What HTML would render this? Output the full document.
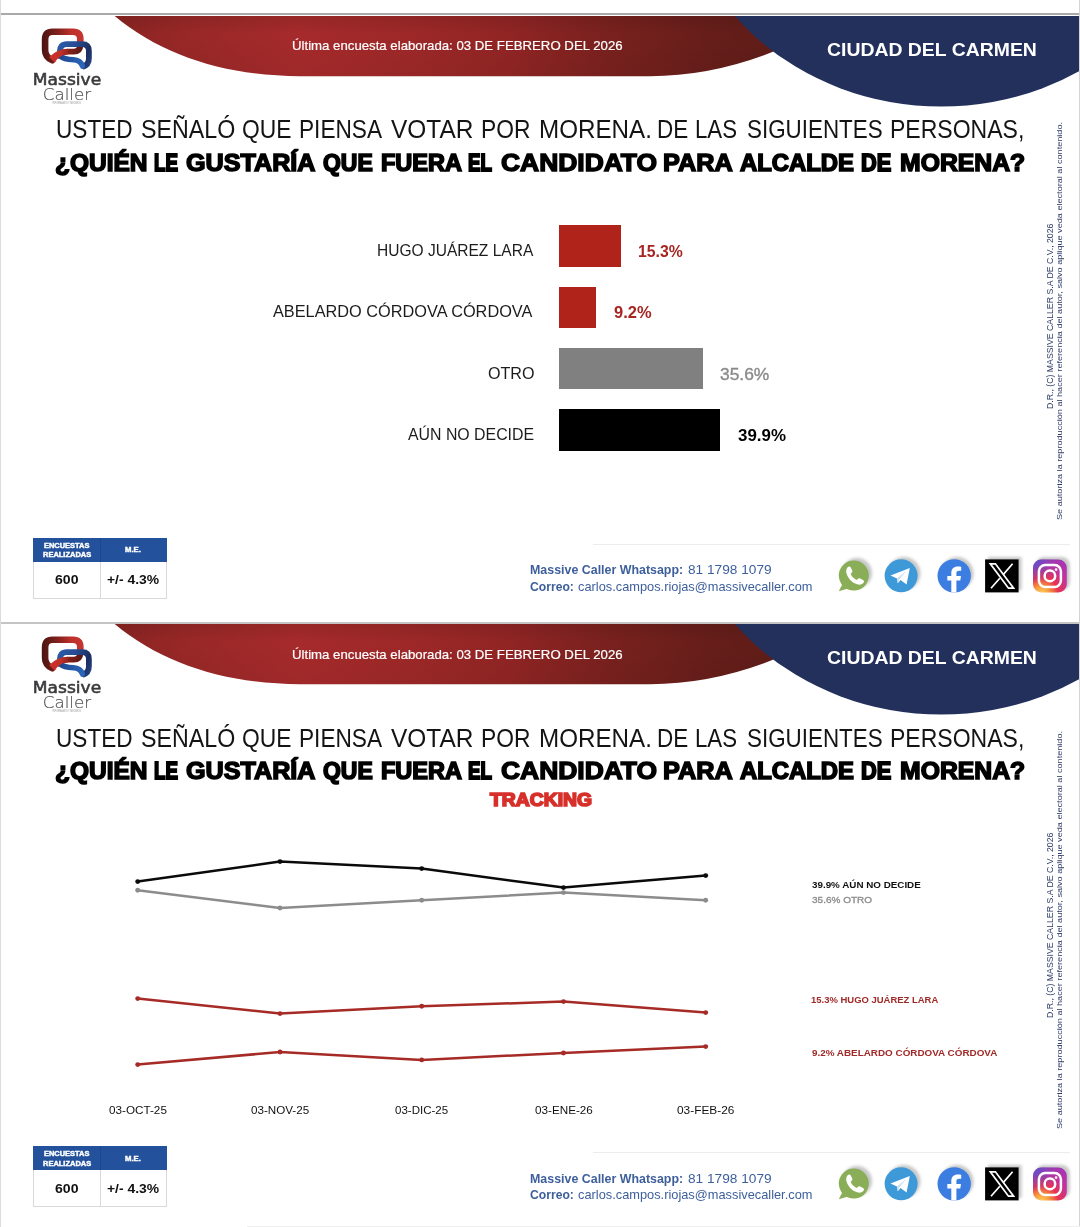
<!DOCTYPE html>
<html lang="es"><head><meta charset="utf-8"><title>Massive Caller - Ciudad del Carmen</title>
<style>
html,body{margin:0;padding:0;background:#fff;}
body{width:1080px;height:1227px;position:relative;overflow:hidden;font-family:"Liberation Sans",sans-serif;}
.panel{position:absolute;left:0;width:1080px;height:609px;}
.t{position:absolute;white-space:nowrap;line-height:1;transform-origin:0 0;display:block;}
.topline{position:absolute;left:0;top:12.7px;width:1080px;height:2.5px;background:#a9a9a9;}
.hdr{position:absolute;left:0;top:0;}
.logo{position:absolute;left:20px;top:20px;}
.bar{position:absolute;left:559.4px;height:41.5px;}
.footline{position:absolute;left:593px;top:543.5px;width:477px;height:1px;background:#ececec;}
.tbl{position:absolute;left:33.3px;top:538px;width:133.4px;height:60.6px;box-sizing:border-box;border:1px solid #d9d9d9;background:#fff;}
.tbl .th{position:absolute;left:-1px;top:-1px;width:133.4px;height:23.8px;background:#23519c;}
.tbl .vd{position:absolute;left:65.6px;top:22.8px;width:1px;height:36.8px;background:#d9d9d9;}
.tbl .hd{position:absolute;left:65.6px;top:-1px;width:1px;height:23.8px;background:rgba(0,0,0,0.12);}
.icons{position:absolute;left:825px;top:545px;}
.chart{position:absolute;left:0;top:0;}
.edge{position:absolute;top:0;width:1px;height:1227px;background:#d4d4d4;}
</style></head>
<body>
<svg width="0" height="0" style="position:absolute;left:0;top:0">
<defs>
<linearGradient id="lr" x1="41" y1="0" x2="84" y2="0" gradientUnits="userSpaceOnUse"><stop offset="0" stop-color="#471411"/><stop offset="0.15" stop-color="#5e1814"/><stop offset="0.45" stop-color="#8d231e"/><stop offset="0.72" stop-color="#c0322c"/><stop offset="1" stop-color="#c5352f"/></linearGradient>
<linearGradient id="lr2" x1="52" y1="0" x2="82" y2="0" gradientUnits="userSpaceOnUse"><stop offset="0" stop-color="#b52c27"/><stop offset="0.5" stop-color="#8a211c"/><stop offset="1" stop-color="#5c1713"/></linearGradient>
<linearGradient id="lr3" x1="49" y1="0" x2="68" y2="0" gradientUnits="userSpaceOnUse"><stop offset="0" stop-color="#cc342d"/><stop offset="0.6" stop-color="#c3302a"/><stop offset="1" stop-color="#98241f"/></linearGradient>
<linearGradient id="lb" x1="58" y1="44" x2="92" y2="60" gradientUnits="userSpaceOnUse"><stop offset="0" stop-color="#2b5ba8"/><stop offset="0.45" stop-color="#264b92"/><stop offset="0.8" stop-color="#1d2d5e"/><stop offset="1" stop-color="#22407f"/></linearGradient>
<linearGradient id="lb2" x1="60" y1="0" x2="84" y2="0" gradientUnits="userSpaceOnUse"><stop offset="0" stop-color="#1f468e"/><stop offset="0.5" stop-color="#2458a6"/><stop offset="1" stop-color="#2b66b8"/></linearGradient>
<filter id="sh" x="-30%" y="-30%" width="160%" height="160%"><feGaussianBlur stdDeviation="1.7"/></filter>
<radialGradient id="ig" cx="0.25" cy="1.05" r="1.2"><stop offset="0" stop-color="#fdd66b"/><stop offset="0.18" stop-color="#f9a13c"/><stop offset="0.42" stop-color="#e8344f"/><stop offset="0.7" stop-color="#c232a0"/><stop offset="1" stop-color="#a136b4"/></radialGradient>
<radialGradient id="ig2" cx="0.02" cy="0.0" r="0.75"><stop offset="0" stop-color="#4a55d2" stop-opacity="0.95"/><stop offset="0.5" stop-color="#5b4fc9" stop-opacity="0.45"/><stop offset="1" stop-color="#6a4cc4" stop-opacity="0"/></radialGradient>
</defs></svg>
<div class="panel" style="top:0px">
<div class="topline" style=""></div>
<svg class="hdr" width="1080" height="125" viewBox="0 0 1080 125">
<defs>
<linearGradient id="rg1" x1="115" y1="0" x2="820" y2="0" gradientUnits="userSpaceOnUse">
<stop offset="0" stop-color="#8a2422"/><stop offset="0.1" stop-color="#982827"/><stop offset="0.26" stop-color="#a62a2b"/><stop offset="0.42" stop-color="#9d2828"/><stop offset="0.56" stop-color="#902524"/><stop offset="0.7" stop-color="#79211e"/><stop offset="0.84" stop-color="#671e1a"/><stop offset="1" stop-color="#5a1c16"/>
</linearGradient>
<linearGradient id="rv1" x1="0" y1="16" x2="0" y2="76" gradientUnits="userSpaceOnUse">
<stop offset="0" stop-color="#000" stop-opacity="0.09"/><stop offset="0.3" stop-color="#000" stop-opacity="0"/><stop offset="1" stop-color="#000" stop-opacity="0.04"/>
</linearGradient>
<clipPath id="hc1"><rect x="0" y="16" width="1080" height="110"/></clipPath>
</defs>
<path d="M114.7,16 C164,57.2 229.4,76.2 300,76.2 L650,76.2 Q746.8,76.2 843.6,16 Z" fill="url(#rg1)"/>
<path d="M114.7,16 C164,57.2 229.4,76.2 300,76.2 L650,76.2 Q746.8,76.2 843.6,16 Z" fill="url(#rv1)"/>
<ellipse cx="941.3" cy="-131.6" rx="263.1" ry="238.1" fill="#23305c" clip-path="url(#hc1)"/>
</svg>
<span class="t" style="left:292.49px;top:39.11px;font-size:13.1px;color:#fff;transform:scaleX(1.0087);-webkit-text-stroke:0.2px #fff;">Última encuesta elaborada: 03 DE FEBRERO DEL 2026</span>
<span class="t" style="left:826.79px;top:40.54px;font-size:18.5px;color:#fff;transform:scaleX(1.0488);font-weight:bold;">CIUDAD DEL CARMEN</span>
<svg class="logo" width="100" height="90" viewBox="20 20 100 90">
<g fill="none" stroke-linecap="round" stroke-linejoin="round">
<path d="M52.3,60.3 C47.5,58.2 45.1,55 45.1,50 L45.1,39.5 C45.1,34.4 47.6,31.8 52.6,31.8 L73,31.8 C77.9,31.8 80.3,34.2 80.3,39 L80.3,44.5" stroke="url(#lr)" stroke-width="6.6"/>
<path d="M80.3,43 L80.3,45 C80.3,49.600 78,51.600 73.5,51.600 L68,51.600 C63,51.600 59.5,54 56.5,57" stroke="url(#lr2)" stroke-width="5.9" stroke-linecap="butt"/>
<path d="M59.8,51.400 C59.8,46.800 62.2,44.100 66.8,44.100 L82,44.100 C86.600,44.100 88.9,46.500 88.9,51 L88.9,58.5 C88.9,63.2 86.800,65.6 82.600,66.9" stroke="url(#lb)" stroke-width="5.8" stroke-linecap="butt"/>
<path d="M60.2,56 C63.5,59.200 68,59.5 73.5,59.700 C78.5,59.900 81.200,62 82.400,65.900" stroke="url(#lb2)" stroke-width="5.4" stroke-linecap="butt"/>
<path d="M82.400,65.900 L82.500,66.5" stroke="#2b66b8" stroke-width="5.000"/>
</g>
<path d="M49.200,57.300 C54,52.400 59.500,48.650 68,48.650 L68,54.550 C62,54.550 58,57.600 54.900,62.400 Z" fill="url(#lr3)"/>
<text x="67" y="84.8" text-anchor="middle" font-family="'DejaVu Sans','Liberation Sans',sans-serif" font-size="15.6" fill="#3a3a3c" stroke="#3a3a3c" stroke-width="0.55" textLength="68.4" lengthAdjust="spacingAndGlyphs">Massive</text>
<text x="67" y="99.6" text-anchor="middle" font-family="'DejaVu Sans','Liberation Sans',sans-serif" font-size="16.5" fill="#555557" stroke="#555557" stroke-width="0.2" textLength="48.3" lengthAdjust="spacingAndGlyphs" style="font-weight:200">Caller</text>
<text x="66.7" y="103.6" text-anchor="middle" font-family="'Liberation Sans',sans-serif" font-size="2.6" fill="#9a9a9a" textLength="28.5" lengthAdjust="spacingAndGlyphs">INFORMAMOS Y MEDIMOS</text>
</svg>
<div class="h1"><span class="t" style="left:56.09px;top:117.24px;font-size:25px;color:#141414;transform:scaleX(0.9040);">USTED</span> <span class="t" style="left:140.52px;top:117.24px;font-size:25px;color:#141414;transform:scaleX(0.9291);">SEÑALÓ</span> <span class="t" style="left:242.03px;top:117.24px;font-size:25px;color:#141414;transform:scaleX(0.9143);">QUE</span> <span class="t" style="left:299.33px;top:117.24px;font-size:25px;color:#141414;transform:scaleX(0.9058);">PIENSA</span> <span class="t" style="left:391.25px;top:117.24px;font-size:25px;color:#141414;transform:scaleX(0.9772);">VOTAR</span> <span class="t" style="left:481.32px;top:117.24px;font-size:25px;color:#141414;transform:scaleX(0.9133);">POR</span> <span class="t" style="left:538.71px;top:117.24px;font-size:25px;color:#141414;transform:scaleX(0.9674);">MORENA.</span> <span class="t" style="left:657.00px;top:117.24px;font-size:25px;color:#141414;transform:scaleX(0.8983);">DE</span> <span class="t" style="left:695.16px;top:117.24px;font-size:25px;color:#141414;transform:scaleX(0.8893);">LAS</span> <span class="t" style="left:746.55px;top:117.24px;font-size:25px;color:#141414;transform:scaleX(0.8958);">SIGUIENTES</span> <span class="t" style="left:890.30px;top:117.24px;font-size:25px;color:#141414;transform:scaleX(0.9208);">PERSONAS,</span></div>
<div class="h2"><span class="t" style="left:55.24px;top:150.98px;font-size:24px;color:#000;transform:scaleX(1.0200);font-weight:bold;-webkit-text-stroke:1.55px #000;">¿QUIÉN</span> <span class="t" style="left:154.36px;top:150.98px;font-size:24px;color:#000;transform:scaleX(0.7811);font-weight:bold;-webkit-text-stroke:2.0px #000;">LE</span> <span class="t" style="left:186.49px;top:150.98px;font-size:24px;color:#000;transform:scaleX(1.0478);font-weight:bold;-webkit-text-stroke:1.49px #000;">GUSTARÍA</span> <span class="t" style="left:323.20px;top:150.98px;font-size:24px;color:#000;transform:scaleX(0.9554);font-weight:bold;-webkit-text-stroke:1.71px #000;">QUE</span> <span class="t" style="left:380.59px;top:150.98px;font-size:24px;color:#000;transform:scaleX(0.9793);font-weight:bold;-webkit-text-stroke:1.65px #000;">FUERA</span> <span class="t" style="left:468.36px;top:150.98px;font-size:24px;color:#000;transform:scaleX(0.7803);font-weight:bold;-webkit-text-stroke:2.0px #000;">EL</span> <span class="t" style="left:500.54px;top:150.98px;font-size:24px;color:#000;transform:scaleX(1.1006);font-weight:bold;-webkit-text-stroke:1.39px #000;">CANDIDATO</span> <span class="t" style="left:663.40px;top:150.98px;font-size:24px;color:#000;transform:scaleX(1.0541);font-weight:bold;-webkit-text-stroke:1.48px #000;">PARA</span> <span class="t" style="left:739.83px;top:150.98px;font-size:24px;color:#000;transform:scaleX(0.9943);font-weight:bold;-webkit-text-stroke:1.61px #000;">ALCALDE</span> <span class="t" style="left:861.38px;top:150.98px;font-size:24px;color:#000;transform:scaleX(0.9075);font-weight:bold;-webkit-text-stroke:1.85px #000;">DE</span> <span class="t" style="left:899.64px;top:150.98px;font-size:24px;color:#000;transform:scaleX(1.0317);font-weight:bold;-webkit-text-stroke:1.53px #000;">MORENA?</span></div>
<span class="t" style="left:1046.09px;top:409.28px;font-size:8.4px;color:#2c3a66;transform:rotate(-90deg) scaleX(1.0418);">D.R., (C) MASSIVE CALLER S.A DE C.V., 2026</span>
<span class="t" style="left:1055.51px;top:520.34px;font-size:7.9px;color:#2c3a66;transform:rotate(-90deg) scaleX(1.1544);">Se autoriza la reproducción al hacer referencia del autor, salvo aplique veda electoral al contenido.</span>
<span class="t" style="left:377.33px;top:243.46px;font-size:16px;color:#1c1c1c;transform:scaleX(0.9711);">HUGO JUÁREZ LARA</span>
<span class="t" style="left:273.30px;top:304.36px;font-size:16px;color:#1c1c1c;transform:scaleX(1.0189);">ABELARDO CÓRDOVA CÓRDOVA</span>
<span class="t" style="left:488.45px;top:365.76px;font-size:16px;color:#1c1c1c;transform:scaleX(1.0065);">OTRO</span>
<span class="t" style="left:408.30px;top:427.06px;font-size:16px;color:#1c1c1c;transform:scaleX(0.9917);">AÚN NO DECIDE</span>
<div class="bar" style="top:225px;width:61.5px;background:#b0231a"></div>
<div class="bar" style="top:286.5px;width:37px;background:#b0231a"></div>
<div class="bar" style="top:347.8px;width:143.4px;background:#808080"></div>
<div class="bar" style="top:409.2px;width:160.8px;background:#000"></div>
<span class="t" style="left:637.51px;top:243.49px;font-size:16.2px;color:#a62520;transform:scaleX(0.9733);font-weight:bold;">15.3%</span>
<span class="t" style="left:614.19px;top:304.39px;font-size:16.2px;color:#a62520;transform:scaleX(1.0169);font-weight:bold;">9.2%</span>
<span class="t" style="left:720.34px;top:366.09px;font-size:16.2px;color:#8a8a8a;transform:scaleX(1.0752);-webkit-text-stroke:0.35px #8a8a8a;">35.6%</span>
<span class="t" style="left:738.04px;top:427.29px;font-size:16.2px;color:#000;transform:scaleX(1.0451);font-weight:bold;">39.9%</span>
<div class="footline"></div>
<div class="tbl">
 <div class="th"></div><div class="hd"></div><div class="vd"></div>
</div>
<span class="t" style="left:43.94px;top:542.73px;font-size:6.7px;color:#fff;transform:scaleX(1.1143);font-weight:bold;-webkit-text-stroke:0.4px #fff;">ENCUESTAS</span>
<span class="t" style="left:42.53px;top:552.33px;font-size:6.7px;color:#fff;transform:scaleX(1.1185);font-weight:bold;-webkit-text-stroke:0.4px #fff;">REALIZADAS</span>
<span class="t" style="left:124.73px;top:547.23px;font-size:6.7px;color:#fff;transform:scaleX(1.1495);font-weight:bold;-webkit-text-stroke:0.4px #fff;">M.E.</span>
<span class="t" style="left:55.34px;top:573.27px;font-size:13.5px;color:#111;transform:scaleX(1.0427);font-weight:bold;">600</span>
<span class="t" style="left:106.92px;top:573.27px;font-size:13.5px;color:#111;transform:scaleX(1.0287);font-weight:bold;">+/- 4.3%</span>
<span class="ct"><span class="t" style="left:530.12px;top:564.18px;font-size:12.9px;color:#3d5f9b;transform:scaleX(0.9631);font-weight:bold;">Massive Caller Whatsapp:</span> <span class="t" style="left:688.17px;top:564.18px;font-size:12.9px;color:#3d5f9b;transform:scaleX(1.0609);">81 1798 1079</span></span>
<span class="ct"><span class="t" style="left:530.43px;top:580.58px;font-size:12.9px;color:#3d5f9b;transform:scaleX(0.9431);font-weight:bold;">Correo:</span> <span class="t" style="left:577.80px;top:580.58px;font-size:12.9px;color:#3d5f9b;transform:scaleX(0.9939);">carlos.campos.riojas@massivecaller.com</span></span>
<svg class="icons" width="250" height="60" viewBox="825 545 250 60">

<g opacity="0.3" filter="url(#sh)" fill="#444">
<circle cx="857" cy="573" r="15"/><circle cx="904" cy="573.5" r="16.5"/><circle cx="957" cy="573.5" r="16.5"/><rect x="988" y="557" width="33.5" height="33" /><rect x="1036" y="557" width="33.8" height="33" rx="8"/>
</g>
<g>
<circle cx="853.8" cy="575.6" r="15" fill="#8aae58"/>
<path d="M842.5,584 L838.8,591.2 L848,588.6 Z" fill="#8aae58"/>
<path d="M847.6,567.2 c1.2,-1 2.6,-0.8 3.2,0.4 l1.4,3 c0.4,0.9 0.1,1.7 -0.6,2.3 l-1,0.9 c1.2,2.8 3.2,4.8 6.2,6.2 l1,-1.1 c0.6,-0.7 1.5,-0.9 2.3,-0.5 l3,1.5 c1.2,0.7 1.2,2.1 0.2,3.2 c-1.6,1.7 -3.8,2.1 -6.3,1.2 c-5,-1.8 -8.8,-5.6 -10.4,-10.6 c-0.8,-2.5 -0.5,-4.8 1,-6.5 z" fill="#fff"/>
</g>
<g>
<circle cx="901.1" cy="575.8" r="16.5" fill="#3d99d8"/>
<path d="M890.5,575.6 L909.8,568 L906.6,584.4 L900.5,580 L897.8,583.2 L897,578.6 Z" fill="#fff"/>
<path d="M897,578.6 L906.5,570.8 L899.3,579.3 L897.8,583.2 Z" fill="#c5dff2"/>
</g>
<g>
<circle cx="954.2" cy="575.9" r="16.7" fill="#3b7de0"/>
<path d="M951.3,592.3 L951.3,580.6 L947.3,580.6 L947.3,576 L951.3,576 L951.3,573 C951.3,568.6 953.8,566.4 957.8,566.4 C959.4,566.4 960.6,566.6 961.2,566.7 L961.2,570.8 L959,570.8 C957,570.8 956.4,571.8 956.4,573.3 L956.4,576 L961,576 L960.3,580.6 L956.4,580.6 L956.4,592.4 Z" fill="#fff"/>
</g>
<g>
<rect x="985.1" y="559.4" width="33.5" height="33" fill="#000"/>
<path d="M990.3,563.8 L995.4,563.8 L1013.6,588.2 L1008.5,588.2 Z" fill="none" stroke="#fff" stroke-width="1.7" stroke-linejoin="miter"/>
<path d="M1012.6,563.8 L1003.2,574.6 M999.8,578.2 L991,588.2" stroke="#fff" stroke-width="1.7" fill="none"/>
</g>
<g>
<rect x="1033" y="559.4" width="33.8" height="33" rx="8.5" fill="url(#ig)"/>
<rect x="1033" y="559.4" width="33.8" height="33" rx="8.5" fill="url(#ig2)"/>
<rect x="1038.9" y="564.9" width="22" height="22" rx="6.4" fill="none" stroke="#fff" stroke-width="2.5"/>
<circle cx="1049.9" cy="575.9" r="5.3" fill="none" stroke="#fff" stroke-width="2.5"/>
<circle cx="1056.1" cy="569.6" r="1.35" fill="#fff"/>
</g>
</svg>

</div>
<div class="panel" style="top:608.4px">
<div class="topline" style="top:13.2px;height:2.4px;background:#c4c4c4"></div>
<svg class="hdr" width="1080" height="125" viewBox="0 0 1080 125">
<defs>
<linearGradient id="rg2" x1="115" y1="0" x2="820" y2="0" gradientUnits="userSpaceOnUse">
<stop offset="0" stop-color="#8a2422"/><stop offset="0.1" stop-color="#982827"/><stop offset="0.26" stop-color="#a62a2b"/><stop offset="0.42" stop-color="#9d2828"/><stop offset="0.56" stop-color="#902524"/><stop offset="0.7" stop-color="#79211e"/><stop offset="0.84" stop-color="#671e1a"/><stop offset="1" stop-color="#5a1c16"/>
</linearGradient>
<linearGradient id="rv2" x1="0" y1="16" x2="0" y2="76" gradientUnits="userSpaceOnUse">
<stop offset="0" stop-color="#000" stop-opacity="0.09"/><stop offset="0.3" stop-color="#000" stop-opacity="0"/><stop offset="1" stop-color="#000" stop-opacity="0.04"/>
</linearGradient>
<clipPath id="hc2"><rect x="0" y="16" width="1080" height="110"/></clipPath>
</defs>
<path d="M114.7,16 C164,57.2 229.4,76.2 300,76.2 L650,76.2 Q746.8,76.2 843.6,16 Z" fill="url(#rg2)"/>
<path d="M114.7,16 C164,57.2 229.4,76.2 300,76.2 L650,76.2 Q746.8,76.2 843.6,16 Z" fill="url(#rv2)"/>
<ellipse cx="941.3" cy="-131.6" rx="263.1" ry="238.1" fill="#23305c" clip-path="url(#hc2)"/>
</svg>
<span class="t" style="left:292.49px;top:39.11px;font-size:13.1px;color:#fff;transform:scaleX(1.0087);-webkit-text-stroke:0.2px #fff;">Última encuesta elaborada: 03 DE FEBRERO DEL 2026</span>
<span class="t" style="left:826.79px;top:40.54px;font-size:18.5px;color:#fff;transform:scaleX(1.0488);font-weight:bold;">CIUDAD DEL CARMEN</span>
<svg class="logo" width="100" height="90" viewBox="20 20 100 90">
<g fill="none" stroke-linecap="round" stroke-linejoin="round">
<path d="M52.3,60.3 C47.5,58.2 45.1,55 45.1,50 L45.1,39.5 C45.1,34.4 47.6,31.8 52.6,31.8 L73,31.8 C77.9,31.8 80.3,34.2 80.3,39 L80.3,44.5" stroke="url(#lr)" stroke-width="6.6"/>
<path d="M80.3,43 L80.3,45 C80.3,49.600 78,51.600 73.5,51.600 L68,51.600 C63,51.600 59.5,54 56.5,57" stroke="url(#lr2)" stroke-width="5.9" stroke-linecap="butt"/>
<path d="M59.8,51.400 C59.8,46.800 62.2,44.100 66.8,44.100 L82,44.100 C86.600,44.100 88.9,46.500 88.9,51 L88.9,58.5 C88.9,63.2 86.800,65.6 82.600,66.9" stroke="url(#lb)" stroke-width="5.8" stroke-linecap="butt"/>
<path d="M60.2,56 C63.5,59.200 68,59.5 73.5,59.700 C78.5,59.900 81.200,62 82.400,65.900" stroke="url(#lb2)" stroke-width="5.4" stroke-linecap="butt"/>
<path d="M82.400,65.900 L82.500,66.5" stroke="#2b66b8" stroke-width="5.000"/>
</g>
<path d="M49.200,57.300 C54,52.400 59.500,48.650 68,48.650 L68,54.550 C62,54.550 58,57.600 54.900,62.400 Z" fill="url(#lr3)"/>
<text x="67" y="84.8" text-anchor="middle" font-family="'DejaVu Sans','Liberation Sans',sans-serif" font-size="15.6" fill="#3a3a3c" stroke="#3a3a3c" stroke-width="0.55" textLength="68.4" lengthAdjust="spacingAndGlyphs">Massive</text>
<text x="67" y="99.6" text-anchor="middle" font-family="'DejaVu Sans','Liberation Sans',sans-serif" font-size="16.5" fill="#555557" stroke="#555557" stroke-width="0.2" textLength="48.3" lengthAdjust="spacingAndGlyphs" style="font-weight:200">Caller</text>
<text x="66.7" y="103.6" text-anchor="middle" font-family="'Liberation Sans',sans-serif" font-size="2.6" fill="#9a9a9a" textLength="28.5" lengthAdjust="spacingAndGlyphs">INFORMAMOS Y MEDIMOS</text>
</svg>
<div class="h1"><span class="t" style="left:56.09px;top:117.24px;font-size:25px;color:#141414;transform:scaleX(0.9040);">USTED</span> <span class="t" style="left:140.52px;top:117.24px;font-size:25px;color:#141414;transform:scaleX(0.9291);">SEÑALÓ</span> <span class="t" style="left:242.03px;top:117.24px;font-size:25px;color:#141414;transform:scaleX(0.9143);">QUE</span> <span class="t" style="left:299.33px;top:117.24px;font-size:25px;color:#141414;transform:scaleX(0.9058);">PIENSA</span> <span class="t" style="left:391.25px;top:117.24px;font-size:25px;color:#141414;transform:scaleX(0.9772);">VOTAR</span> <span class="t" style="left:481.32px;top:117.24px;font-size:25px;color:#141414;transform:scaleX(0.9133);">POR</span> <span class="t" style="left:538.71px;top:117.24px;font-size:25px;color:#141414;transform:scaleX(0.9674);">MORENA.</span> <span class="t" style="left:657.00px;top:117.24px;font-size:25px;color:#141414;transform:scaleX(0.8983);">DE</span> <span class="t" style="left:695.16px;top:117.24px;font-size:25px;color:#141414;transform:scaleX(0.8893);">LAS</span> <span class="t" style="left:746.55px;top:117.24px;font-size:25px;color:#141414;transform:scaleX(0.8958);">SIGUIENTES</span> <span class="t" style="left:890.30px;top:117.24px;font-size:25px;color:#141414;transform:scaleX(0.9208);">PERSONAS,</span></div>
<div class="h2"><span class="t" style="left:55.24px;top:150.98px;font-size:24px;color:#000;transform:scaleX(1.0200);font-weight:bold;-webkit-text-stroke:1.55px #000;">¿QUIÉN</span> <span class="t" style="left:154.36px;top:150.98px;font-size:24px;color:#000;transform:scaleX(0.7811);font-weight:bold;-webkit-text-stroke:2.0px #000;">LE</span> <span class="t" style="left:186.49px;top:150.98px;font-size:24px;color:#000;transform:scaleX(1.0478);font-weight:bold;-webkit-text-stroke:1.49px #000;">GUSTARÍA</span> <span class="t" style="left:323.20px;top:150.98px;font-size:24px;color:#000;transform:scaleX(0.9554);font-weight:bold;-webkit-text-stroke:1.71px #000;">QUE</span> <span class="t" style="left:380.59px;top:150.98px;font-size:24px;color:#000;transform:scaleX(0.9793);font-weight:bold;-webkit-text-stroke:1.65px #000;">FUERA</span> <span class="t" style="left:468.36px;top:150.98px;font-size:24px;color:#000;transform:scaleX(0.7803);font-weight:bold;-webkit-text-stroke:2.0px #000;">EL</span> <span class="t" style="left:500.54px;top:150.98px;font-size:24px;color:#000;transform:scaleX(1.1006);font-weight:bold;-webkit-text-stroke:1.39px #000;">CANDIDATO</span> <span class="t" style="left:663.40px;top:150.98px;font-size:24px;color:#000;transform:scaleX(1.0541);font-weight:bold;-webkit-text-stroke:1.48px #000;">PARA</span> <span class="t" style="left:739.83px;top:150.98px;font-size:24px;color:#000;transform:scaleX(0.9943);font-weight:bold;-webkit-text-stroke:1.61px #000;">ALCALDE</span> <span class="t" style="left:861.38px;top:150.98px;font-size:24px;color:#000;transform:scaleX(0.9075);font-weight:bold;-webkit-text-stroke:1.85px #000;">DE</span> <span class="t" style="left:899.64px;top:150.98px;font-size:24px;color:#000;transform:scaleX(1.0317);font-weight:bold;-webkit-text-stroke:1.53px #000;">MORENA?</span></div>
<span class="t" style="left:1046.09px;top:409.28px;font-size:8.4px;color:#2c3a66;transform:rotate(-90deg) scaleX(1.0418);">D.R., (C) MASSIVE CALLER S.A DE C.V., 2026</span>
<span class="t" style="left:1055.51px;top:520.34px;font-size:7.9px;color:#2c3a66;transform:rotate(-90deg) scaleX(1.1544);">Se autoriza la reproducción al hacer referencia del autor, salvo aplique veda electoral al contenido.</span>
<span class="t" style="left:489.79px;top:182.72px;font-size:18.4px;color:#d7302a;transform:scaleX(1.0510);font-weight:bold;-webkit-text-stroke:1.7px #d7302a;">TRACKING</span>
<svg class="chart" width="1080" height="520" viewBox="0 0 1080 520"><polyline points="137.7,282.3 280.0,300.0 421.7,292.3 563.5,284.6 705.7,292.3" fill="none" stroke="#8c8c8c" stroke-width="2.5" stroke-linejoin="round"/><circle cx="137.7" cy="282.3" r="2.45" fill="#8c8c8c"/><circle cx="280.0" cy="300.0" r="2.45" fill="#8c8c8c"/><circle cx="421.7" cy="292.3" r="2.45" fill="#8c8c8c"/><circle cx="563.5" cy="284.6" r="2.45" fill="#8c8c8c"/><circle cx="705.7" cy="292.3" r="2.45" fill="#8c8c8c"/><polyline points="137.7,273.6 280.0,253.6 421.7,260.6 563.5,279.6 705.7,267.6" fill="none" stroke="#0a0a0a" stroke-width="2.5" stroke-linejoin="round"/><circle cx="137.7" cy="273.6" r="2.45" fill="#0a0a0a"/><circle cx="280.0" cy="253.6" r="2.45" fill="#0a0a0a"/><circle cx="421.7" cy="260.6" r="2.45" fill="#0a0a0a"/><circle cx="563.5" cy="279.6" r="2.45" fill="#0a0a0a"/><circle cx="705.7" cy="267.6" r="2.45" fill="#0a0a0a"/><polyline points="137.7,390.6 280.0,405.6 421.7,398.3 563.5,393.6 705.7,404.6" fill="none" stroke="#a62a26" stroke-width="2.5" stroke-linejoin="round"/><circle cx="137.7" cy="390.6" r="2.45" fill="#a62a26"/><circle cx="280.0" cy="405.6" r="2.45" fill="#a62a26"/><circle cx="421.7" cy="398.3" r="2.45" fill="#a62a26"/><circle cx="563.5" cy="393.6" r="2.45" fill="#a62a26"/><circle cx="705.7" cy="404.6" r="2.45" fill="#a62a26"/><polyline points="137.7,456.6 280.0,444.0 421.7,451.9 563.5,445.0 705.7,438.6" fill="none" stroke="#a62a26" stroke-width="2.5" stroke-linejoin="round"/><circle cx="137.7" cy="456.6" r="2.45" fill="#a62a26"/><circle cx="280.0" cy="444.0" r="2.45" fill="#a62a26"/><circle cx="421.7" cy="451.9" r="2.45" fill="#a62a26"/><circle cx="563.5" cy="445.0" r="2.45" fill="#a62a26"/><circle cx="705.7" cy="438.6" r="2.45" fill="#a62a26"/></svg>
<span class="t" style="left:108.55px;top:496.35px;font-size:11.4px;color:#111;transform:scaleX(1.0274);">03-OCT-25</span>
<span class="t" style="left:250.55px;top:496.35px;font-size:11.4px;color:#111;transform:scaleX(1.0210);">03-NOV-25</span>
<span class="t" style="left:394.56px;top:496.35px;font-size:11.4px;color:#111;transform:scaleX(1.0120);">03-DIC-25</span>
<span class="t" style="left:534.55px;top:496.35px;font-size:11.4px;color:#111;transform:scaleX(1.0272);">03-ENE-26</span>
<span class="t" style="left:677.04px;top:496.35px;font-size:11.4px;color:#111;transform:scaleX(1.0421);">03-FEB-26</span>
<span class="t" style="left:811.80px;top:272.73px;font-size:9.3px;color:#111;transform:scaleX(1.0560);font-weight:bold;">39.9% AÚN NO DECIDE</span>
<span class="t" style="left:811.83px;top:287.93px;font-size:9.3px;color:#8a8a8a;transform:scaleX(1.0761);-webkit-text-stroke:0.3px #8a8a8a;">35.6% OTRO</span>
<span class="t" style="left:811.43px;top:387.53px;font-size:9.3px;color:#a02a28;transform:scaleX(1.0179);font-weight:bold;">15.3% HUGO JUÁREZ LARA</span>
<span class="t" style="left:811.67px;top:440.73px;font-size:9.3px;color:#a02a28;transform:scaleX(1.0612);font-weight:bold;">9.2% ABELARDO CÓRDOVA CÓRDOVA</span>
<div class="footline"></div>
<div class="tbl">
 <div class="th"></div><div class="hd"></div><div class="vd"></div>
</div>
<span class="t" style="left:43.94px;top:542.73px;font-size:6.7px;color:#fff;transform:scaleX(1.1143);font-weight:bold;-webkit-text-stroke:0.4px #fff;">ENCUESTAS</span>
<span class="t" style="left:42.53px;top:552.33px;font-size:6.7px;color:#fff;transform:scaleX(1.1185);font-weight:bold;-webkit-text-stroke:0.4px #fff;">REALIZADAS</span>
<span class="t" style="left:124.73px;top:547.23px;font-size:6.7px;color:#fff;transform:scaleX(1.1495);font-weight:bold;-webkit-text-stroke:0.4px #fff;">M.E.</span>
<span class="t" style="left:55.34px;top:573.27px;font-size:13.5px;color:#111;transform:scaleX(1.0427);font-weight:bold;">600</span>
<span class="t" style="left:106.92px;top:573.27px;font-size:13.5px;color:#111;transform:scaleX(1.0287);font-weight:bold;">+/- 4.3%</span>
<span class="ct"><span class="t" style="left:530.12px;top:564.18px;font-size:12.9px;color:#3d5f9b;transform:scaleX(0.9631);font-weight:bold;">Massive Caller Whatsapp:</span> <span class="t" style="left:688.17px;top:564.18px;font-size:12.9px;color:#3d5f9b;transform:scaleX(1.0609);">81 1798 1079</span></span>
<span class="ct"><span class="t" style="left:530.43px;top:580.58px;font-size:12.9px;color:#3d5f9b;transform:scaleX(0.9431);font-weight:bold;">Correo:</span> <span class="t" style="left:577.80px;top:580.58px;font-size:12.9px;color:#3d5f9b;transform:scaleX(0.9939);">carlos.campos.riojas@massivecaller.com</span></span>
<svg class="icons" width="250" height="60" viewBox="825 545 250 60">

<g opacity="0.3" filter="url(#sh)" fill="#444">
<circle cx="857" cy="573" r="15"/><circle cx="904" cy="573.5" r="16.5"/><circle cx="957" cy="573.5" r="16.5"/><rect x="988" y="557" width="33.5" height="33" /><rect x="1036" y="557" width="33.8" height="33" rx="8"/>
</g>
<g>
<circle cx="853.8" cy="575.6" r="15" fill="#8aae58"/>
<path d="M842.5,584 L838.8,591.2 L848,588.6 Z" fill="#8aae58"/>
<path d="M847.6,567.2 c1.2,-1 2.6,-0.8 3.2,0.4 l1.4,3 c0.4,0.9 0.1,1.7 -0.6,2.3 l-1,0.9 c1.2,2.8 3.2,4.8 6.2,6.2 l1,-1.1 c0.6,-0.7 1.5,-0.9 2.3,-0.5 l3,1.5 c1.2,0.7 1.2,2.1 0.2,3.2 c-1.6,1.7 -3.8,2.1 -6.3,1.2 c-5,-1.8 -8.8,-5.6 -10.4,-10.6 c-0.8,-2.5 -0.5,-4.8 1,-6.5 z" fill="#fff"/>
</g>
<g>
<circle cx="901.1" cy="575.8" r="16.5" fill="#3d99d8"/>
<path d="M890.5,575.6 L909.8,568 L906.6,584.4 L900.5,580 L897.8,583.2 L897,578.6 Z" fill="#fff"/>
<path d="M897,578.6 L906.5,570.8 L899.3,579.3 L897.8,583.2 Z" fill="#c5dff2"/>
</g>
<g>
<circle cx="954.2" cy="575.9" r="16.7" fill="#3b7de0"/>
<path d="M951.3,592.3 L951.3,580.6 L947.3,580.6 L947.3,576 L951.3,576 L951.3,573 C951.3,568.6 953.8,566.4 957.8,566.4 C959.4,566.4 960.6,566.6 961.2,566.7 L961.2,570.8 L959,570.8 C957,570.8 956.4,571.8 956.4,573.3 L956.4,576 L961,576 L960.3,580.6 L956.4,580.6 L956.4,592.4 Z" fill="#fff"/>
</g>
<g>
<rect x="985.1" y="559.4" width="33.5" height="33" fill="#000"/>
<path d="M990.3,563.8 L995.4,563.8 L1013.6,588.2 L1008.5,588.2 Z" fill="none" stroke="#fff" stroke-width="1.7" stroke-linejoin="miter"/>
<path d="M1012.6,563.8 L1003.2,574.6 M999.8,578.2 L991,588.2" stroke="#fff" stroke-width="1.7" fill="none"/>
</g>
<g>
<rect x="1033" y="559.4" width="33.8" height="33" rx="8.5" fill="url(#ig)"/>
<rect x="1033" y="559.4" width="33.8" height="33" rx="8.5" fill="url(#ig2)"/>
<rect x="1038.9" y="564.9" width="22" height="22" rx="6.4" fill="none" stroke="#fff" stroke-width="2.5"/>
<circle cx="1049.9" cy="575.9" r="5.3" fill="none" stroke="#fff" stroke-width="2.5"/>
<circle cx="1056.1" cy="569.6" r="1.35" fill="#fff"/>
</g>
</svg>

</div>
<div class="edge" style="left:0;width:1.4px;background:#dcdcdc"></div><div class="edge" style="left:1079px"></div>
<div style="position:absolute;left:247px;top:1225.5px;width:833px;height:1.5px;background:#efefef"></div>
</body></html>
